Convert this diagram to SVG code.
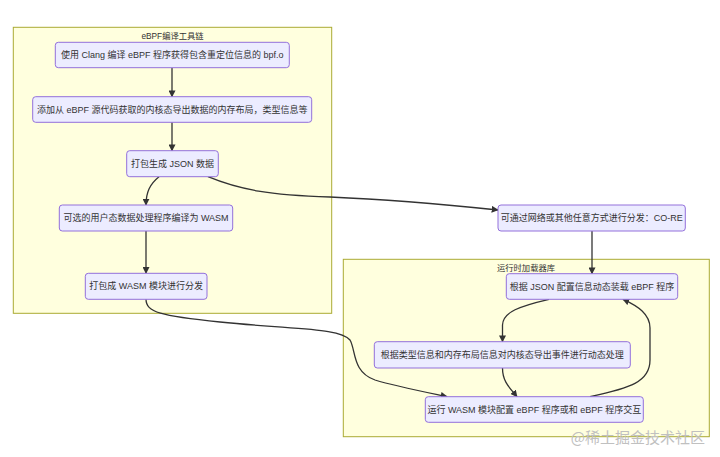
<svg xmlns="http://www.w3.org/2000/svg" width="720" height="457" viewBox="0 0 720 457">
<style>
.cl{fill:#ffffde;stroke:#aaaa33;stroke-width:1}
.nd{fill:#ececff;stroke:#9370db;stroke-width:1}
.t{font-family:"Liberation Sans","Noto Sans CJK SC",sans-serif;font-size:9px;fill:#333;text-anchor:middle;dominant-baseline:central}
.ct{font-family:"Liberation Sans","Noto Sans CJK SC",sans-serif;font-size:8.3px;fill:#333;text-anchor:middle;dominant-baseline:central}
.e{fill:none;stroke:#333;stroke-width:1.3}
</style>
<defs>
<marker id="ah" viewBox="0 0 10 10" refX="9" refY="5" markerWidth="7" markerHeight="7" orient="auto" markerUnits="userSpaceOnUse">
<path d="M0,0 L10,5 L0,10 z" fill="#333"/>
</marker>
</defs>
<rect width="720" height="457" fill="#fff"/>
<g id="cluster-toolchain">
<rect class="cl" x="13.3" y="27.3" width="318.4" height="286"/>
<text class="ct" x="172.5" y="36">eBPF编译工具链</text>
</g>
<g id="cluster-runtime">
<rect class="cl" x="343.3" y="259.3" width="366" height="177.4"/>
<text class="ct" x="526" y="268">运行时加载器库</text>
</g>
<g id="edges">
<path class="e" d="M172,67.7 L172,96.7" marker-end="url(#ah)"/>
<path class="e" d="M172,122.3 L172,150.7" marker-end="url(#ah)"/>
<path class="e" d="M159,176.7 C150,184 146,192 146,205" marker-end="url(#ah)"/>
<path class="e" d="M208,176.7 C240,190 270,195 330,197 C400,200 450,205 498,210" marker-end="url(#ah)"/>
<path class="e" d="M146,231 L146,273.3" marker-end="url(#ah)"/>
<path class="e" d="M146,299.3 C146,312 160,316 220,322 C300,330 340,328 350,340 C356,350 352,372 375,380 C395,386 420,391 447,396.7" marker-end="url(#ah)"/>
<path class="e" d="M592,231 L592,273.7" marker-end="url(#ah)"/>
<path class="e" d="M549,299.3 C520,306 503,312 502.5,325 L502.5,341.7" marker-end="url(#ah)"/>
<path class="e" d="M502.5,368 C502.5,382 510,388 517,396.7" marker-end="url(#ah)"/>
<path class="e" d="M590,396.7 C630,388 650,382 650,360 L650,328 C650,314 638,306 623,299.3" marker-end="url(#ah)"/>
</g>
<g id="node-clang">
<rect class="nd" x="55.3" y="42.3" width="234" height="25.4" rx="3"/>
<text class="t" x="172.3" y="55">使用 Clang 编译 eBPF 程序获得包含重定位信息的 bpf.o</text>
</g>
<g id="node-layout">
<rect class="nd" x="32.7" y="96.7" width="279" height="25.6" rx="3"/>
<text class="t" x="172.2" y="109.5">添加从 eBPF 源代码获取的内核态导出数据的内存布局，类型信息等</text>
</g>
<g id="node-json">
<rect class="nd" x="126.7" y="150.7" width="91.6" height="26" rx="3"/>
<text class="t" x="172.5" y="163.7">打包生成 JSON 数据</text>
</g>
<g id="node-wasm-compile">
<rect class="nd" x="59.3" y="205" width="173.4" height="26" rx="3"/>
<text class="t" x="146" y="218">可选的用户态数据处理程序编译为 WASM</text>
</g>
<g id="node-wasm-pack">
<rect class="nd" x="85.3" y="273.3" width="121.7" height="26" rx="3"/>
<text class="t" x="146.2" y="286.3">打包成 WASM 模块进行分发</text>
</g>
<g id="node-core">
<rect class="nd" x="498" y="205" width="187.3" height="26" rx="3"/>
<text class="t" x="591.7" y="218">可通过网络或其他任意方式进行分发：CO-RE</text>
</g>
<g id="node-load">
<rect class="nd" x="506.3" y="273.7" width="171.4" height="25.6" rx="3"/>
<text class="t" x="592" y="286.5">根据 JSON 配置信息动态装载 eBPF 程序</text>
</g>
<g id="node-process">
<rect class="nd" x="374.3" y="341.7" width="256" height="26.3" rx="3"/>
<text class="t" x="502.3" y="354.8">根据类型信息和内存布局信息对内核态导出事件进行动态处理</text>
</g>
<g id="node-run">
<rect class="nd" x="425.3" y="396.7" width="218" height="25.6" rx="3"/>
<text class="t" x="534.3" y="409.5">运行 WASM 模块配置 eBPF 程序或和 eBPF 程序交互</text>
</g>
<text x="705" y="436" font-family="Noto Sans CJK SC,sans-serif" font-size="15" fill="#c0c0c0" text-anchor="end" dominant-baseline="central">@稀土掘金技术社区</text>
</svg>
